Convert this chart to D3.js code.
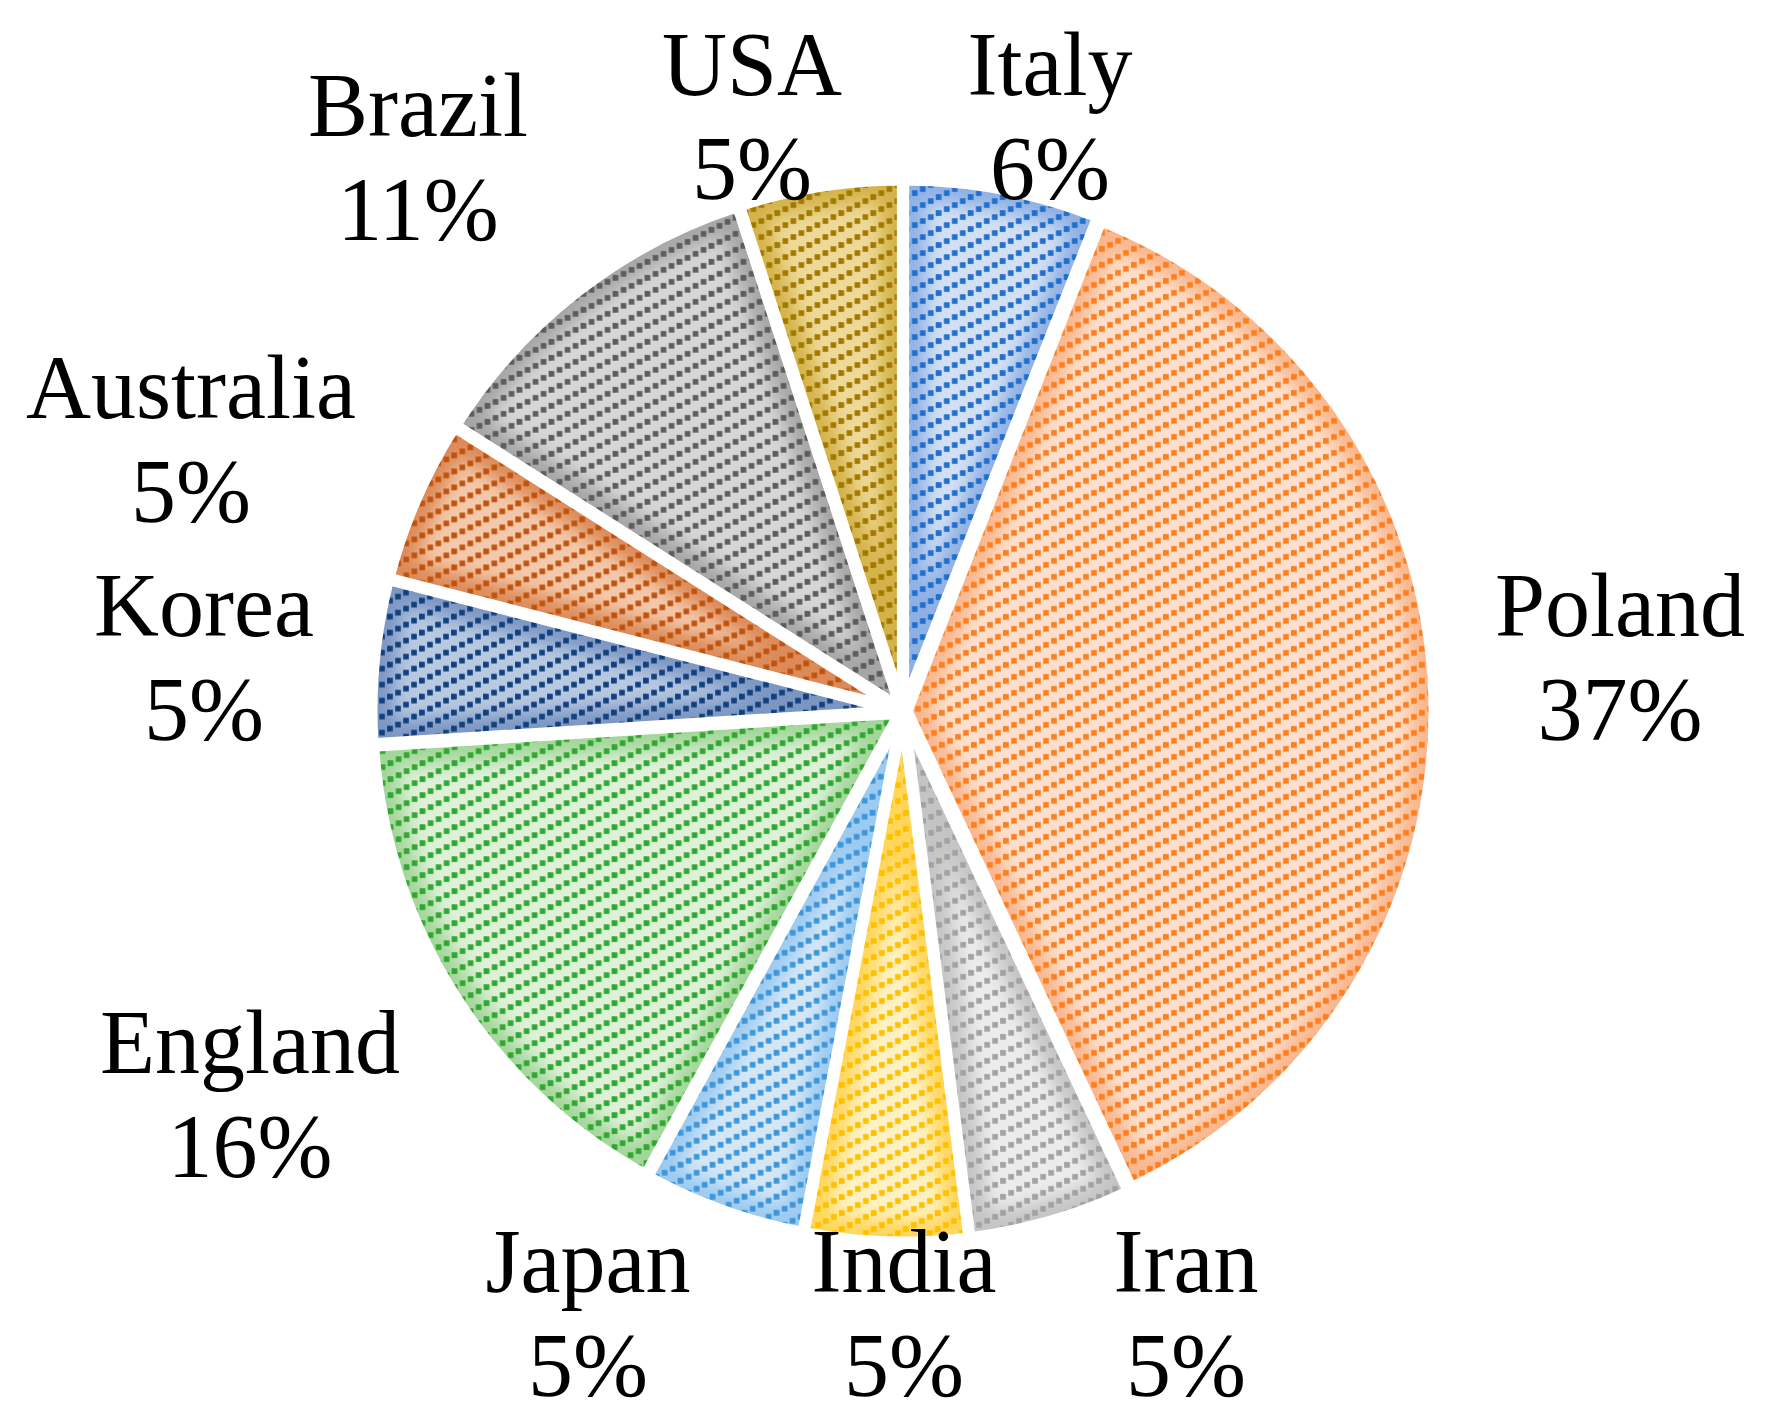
<!DOCTYPE html>
<html>
<head>
<meta charset="utf-8">
<script src="https://cdn.jsdelivr.net/npm/d3@7"></script>
<style>
  html, body { margin: 0; padding: 0; background: #ffffff; }
  svg { display: block; }
</style>
</head>
<body>
<div id="chart"></div>
<script>
// ---- data ----
const categories = ["Italy", "Poland", "Iran", "India", "Japan", "England", "Korea", "Australia", "Brazil", "USA"];
const values = [6, 37, 5, 5, 5, 16, 5, 5, 11, 5];
const percentLabels = ["6%", "37%", "5%", "5%", "5%", "16%", "5%", "5%", "11%", "5%"];

// ---- styles ----
const dotColors  = ["#1f6fcf", "#ff7f1e", "#a2a2a2", "#ffc000", "#3c96dc", "#2ea82e", "#10407f", "#c0520c", "#5c5c5c", "#a07a00"];
const bgColors   = ["#d3e0f3", "#ffdfcb", "#ececec", "#fff1c4", "#d4e7f7", "#def0d9", "#b9c9e2", "#f4c8aa", "#d6d6d6", "#efd99a"];
const edgeColors = ["#8fb0e3", "#f9b68c", "#c4c4c4", "#ffd65a", "#9ccaf0", "#a3d69a", "#7c96c2", "#dc8a58", "#a6a6a6", "#d4b24a"];

// label anchor (center x, first baseline) – layout only
const labelAnchors = [
  [1050, 95], [1620, 636], [1186, 1292], [904, 1292], [588, 1292],
  [250, 1073], [204, 636], [191, 418], [418, 136], [752, 95]
];

const W = 1771, H = 1427;
const cx = 903, cy = 711;
const R = 527;
const explode = 4;
const gapStroke = 11;
const fontSize = 90, lineGap = 104;

const svg = d3.select("#chart").append("svg")
  .attr("width", W).attr("height", H)
  .attr("viewBox", `0 0 ${W} ${H}`);
svg.append("rect").attr("width", W).attr("height", H).attr("fill", "#ffffff");

const defs = svg.append("defs");
defs.append("filter").attr("id", "soft")
  .attr("x", "-20%").attr("y", "-20%").attr("width", "140%").attr("height", "140%")
  .append("feGaussianBlur").attr("stdDeviation", 9);

// patterns: upward diagonal lines of small squares
const TW = 32, TH = 16, STEP = 8, SZ = 5.6;
categories.forEach((c, i) => {
  const p = defs.append("pattern")
    .attr("id", "pat" + i)
    .attr("patternUnits", "userSpaceOnUse")
    .attr("width", TW).attr("height", TH)
    .attr("x", 3).attr("y", 2);
  const pts = [];
  for (let x = 0; x <= TW; x += STEP) {
    const y = TH - x / 2;
    pts.push([x, y]);
    if (y + SZ / 2 > TH) pts.push([x, y - TH]);
    if (y - SZ / 2 < 0) pts.push([x, y + TH]);
  }
  pts.forEach(([x, y]) => {
    p.append("rect").attr("x", x - SZ / 2).attr("y", y - SZ / 2)
      .attr("width", SZ).attr("height", SZ).attr("fill", dotColors[i]);
    if (x - SZ / 2 < 0) {
      p.append("rect").attr("x", x + TW - SZ / 2).attr("y", y - SZ / 2)
        .attr("width", SZ).attr("height", SZ).attr("fill", dotColors[i]);
    }
  });
});

const pie = d3.pie().sort(null).value(d => d);
const arcs = pie(values);
const arc = d3.arc().innerRadius(0).outerRadius(R);

const root = svg.append("g").attr("transform", `translate(${cx},${cy})`);

arcs.forEach((a, i) => {
  const mid = (a.startAngle + a.endAngle) / 2;
  const dx = explode * Math.sin(mid), dy = -explode * Math.cos(mid);
  const g = root.append("g").attr("transform", `translate(${dx},${dy})`);
  const d = arc(a);
  defs.append("clipPath").attr("id", "clip" + i).append("path").attr("d", d);
  const inner = g.append("g").attr("clip-path", `url(#clip${i})`);
  inner.append("path").attr("d", d).attr("fill", bgColors[i]);
  inner.append("path").attr("d", d).attr("fill", "none")
    .attr("stroke", edgeColors[i]).attr("stroke-width", 44)
    .attr("filter", "url(#soft)");
  inner.append("path").attr("d", d).attr("fill", `url(#pat${i})`);
  g.append("path").attr("d", d).attr("fill", "none")
    .attr("stroke", "#ffffff").attr("stroke-width", gapStroke)
    .attr("stroke-linejoin", "miter");
});

// labels
const lbl = svg.append("g")
  .attr("font-family", "'Liberation Serif', 'Times New Roman', serif")
  .attr("font-size", fontSize)
  .attr("fill", "#000000")
  .attr("text-anchor", "middle");

categories.forEach((c, i) => {
  const [x, y] = labelAnchors[i];
  const t = lbl.append("text").attr("x", x).attr("y", y);
  t.append("tspan").attr("x", x).attr("y", y).text(c);
  t.append("tspan").attr("x", x).attr("y", y + lineGap).text(percentLabels[i]);
});
</script>
</body>
</html>
